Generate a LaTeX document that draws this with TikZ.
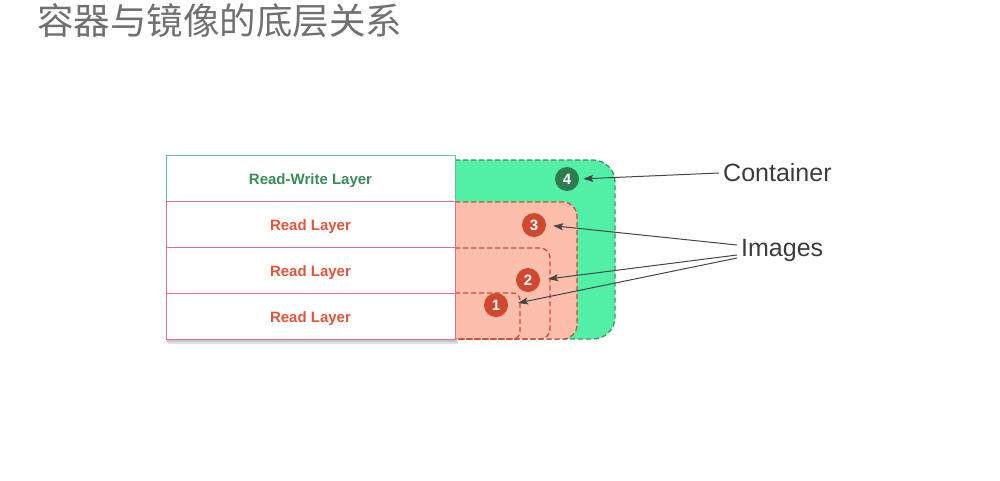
\documentclass[tikz,border=0pt]{standalone}
\usepackage{fontspec}
\setmainfont{Liberation Sans}
\newfontfamily\cjk{Noto Sans CJK SC}
\usetikzlibrary{arrows.meta}
\definecolor{titlegray}{RGB}{112,112,112}
\definecolor{cgreen}{RGB}{82,240,166}
\definecolor{cgreendash}{RGB}{60,150,105}
\definecolor{csalmon}{RGB}{253,190,172}
\definecolor{credash}{RGB}{214,70,55}
\definecolor{rwtext}{RGB}{58,140,92}
\definecolor{rtext}{RGB}{222,86,60}
\definecolor{rwborder}{RGB}{110,190,150}
\definecolor{rborder}{RGB}{228,110,140}
\definecolor{cdark}{RGB}{46,125,80}
\definecolor{cred}{RGB}{208,72,48}
\definecolor{labelgray}{RGB}{60,60,60}
\definecolor{arrgray}{RGB}{70,70,70}
\tikzset{
  rowbox/.style={rectangle, fill=white, minimum width=289pt, minimum height=46pt, inner sep=0pt, text height=14pt, text depth=2pt, line width=0.9pt, font=\bfseries\fontsize{15}{18}\selectfont},
  region/.style={dashed, dash pattern=on 5pt off 3pt, line width=1.3pt},
  num/.style={circle, minimum size=24pt, inner sep=0pt, text=white, font=\bfseries\fontsize{15}{18}\selectfont},
  lbl/.style={anchor=west, inner sep=0pt, text=labelgray, font=\fontsize{25}{30}\selectfont},
  arr/.style={draw=arrgray, line width=1pt, -{Stealth[length=10pt,width=7pt,inset=2pt]}}
}
\begin{document}
\begin{tikzpicture}[x=1pt,y=-1pt]
\useasboundingbox (0,0) rectangle (1000,480);
\fill[white] (0,0) rectangle (1000,480);
\node[anchor=west, inner sep=0pt, text=titlegray, font=\cjk\fontsize{36.5}{40}\selectfont] (title) at (37,21) {容器与镜像的底层关系};
% container region
\path[region, fill=cgreen, draw=cgreendash, rounded corners=22pt] (455,160) -- (615,160) -- (615,339) -- (455,339);
% image regions
\path[region, fill=csalmon, draw=credash, rounded corners=14pt] (455,202) -- (577,202) -- (577,339) -- (455,339);
\path[region, draw=credash, rounded corners=10pt] (455,248) -- (550,248) -- (550,339) -- (455,339);
\path[region, draw=credash, rounded corners=7pt] (455,293) -- (520,293) -- (520,339) -- (455,339);
% shadow
\fill[black!12] (168,339) rectangle (458,344);
\fill[black!22] (167,339) rectangle (457,342);
% table
\node[rowbox, draw=rwborder, text=rwtext] (rw) at (310.5,178) {Read-Write Layer};
\node[rowbox, draw=rborder, text=rtext] (r3) at (310.5,224) {Read Layer};
\node[rowbox, draw=rborder, text=rtext] (r2) at (310.5,270) {Read Layer};
\node[rowbox, draw=rborder, text=rtext] (r1) at (310.5,316) {Read Layer};
% numbers
\node[num, fill=cdark] (c4) at (567,179) {4};
\node[num, fill=cred] (c3) at (534,225) {3};
\node[num, fill=cred] (c2) at (528,280) {2};
\node[num, fill=cred] (c1) at (496,305) {1};
% labels
\node[lbl] (container) at (723,173) {Container};
\node[lbl] (images) at (741,250) {Images};
% arrows
\draw[arr, shorten >=4pt] ([xshift=-4pt]container.west) -- (c4.east);
\draw[arr, shorten >=7pt] ([xshift=-4pt,yshift=5pt]images.west) -- (c3.east);
\draw[arr, shorten >=8pt] ([xshift=-4pt,yshift=-5pt]images.west) -- (c2.east);
\draw[arr, shorten >=10pt] ([xshift=-4pt,yshift=-8pt]images.west) -- (c1.east);
\end{tikzpicture}
\end{document}
